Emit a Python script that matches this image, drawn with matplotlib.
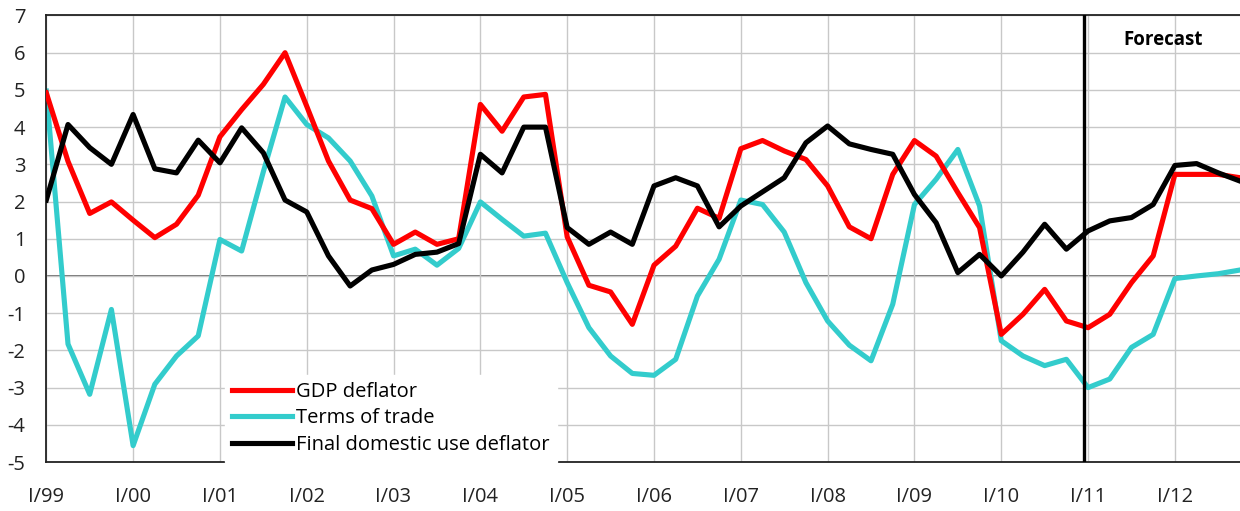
import matplotlib
matplotlib.use("Agg")
import matplotlib.pyplot as plt
import numpy as np

years = ["99", "00", "01", "02", "03", "04", "05", "06", "07", "08", "09", "10", "11", "12"]
tick_labels = ["I/" + y for y in years]

gdp_deflator = [4.92, 3.08, 1.68, 1.99, 1.50, 1.03, 1.39, 2.17, 3.74, 4.47,
                5.15, 6.00, 4.56, 3.09, 2.04, 1.81, 0.85, 1.18, 0.85, 1.00,
                4.61, 3.89, 4.81, 4.88, 1.05, -0.25, -0.43, -1.30, 0.29, 0.80,
                1.82, 1.55, 3.42, 3.64, 3.36, 3.13, 2.42, 1.32, 1.00, 2.73,
                3.64, 3.22, 2.24, 1.30, -1.57, -1.03, -0.36, -1.21, -1.39, -1.03,
                -0.18, 0.54, 2.73, 2.73, 2.73, 2.64]

terms_of_trade = [4.97, -1.83, -3.18, -0.90, -4.56, -2.91, -2.15, -1.61, 0.98, 0.67,
                  2.80, 4.81, 4.07, 3.71, 3.09, 2.15, 0.54, 0.72, 0.29, 0.74,
                  1.99, 1.52, 1.07, 1.15, -0.18, -1.39, -2.15, -2.62, -2.67, -2.24,
                  -0.54, 0.45, 2.04, 1.92, 1.18, -0.18, -1.21, -1.86, -2.28, -0.76,
                  1.92, 2.60, 3.40, 1.88, -1.74, -2.15, -2.41, -2.24, -3.00, -2.77,
                  -1.92, -1.57, -0.07, 0.00, 0.06, 0.16]

final_domestic = [2.04, 4.07, 3.45, 3.00, 4.34, 2.88, 2.77, 3.65, 3.04, 3.98,
                  3.31, 2.04, 1.72, 0.54, -0.27, 0.16, 0.31, 0.58, 0.64, 0.87,
                  3.27, 2.77, 4.00, 4.00, 1.30, 0.85, 1.18, 0.85, 2.42, 2.64,
                  2.42, 1.32, 1.88, 2.26, 2.64, 3.58, 4.03, 3.55, 3.40, 3.27,
                  2.19, 1.43, 0.09, 0.58, 0.00, 0.64, 1.39, 0.72, 1.21, 1.48,
                  1.57, 1.92, 2.97, 3.02, 2.77, 2.55]

forecast_start = 47.8

x = np.arange(len(gdp_deflator))

plt.rcParams['font.family'] = ['Open Sans', 'DejaVu Sans']
plt.rcParams['axes.unicode_minus'] = False

fig = plt.figure(figsize=(12.4, 5.11), dpi=100)
ax = fig.add_axes([46.3 / 1240, 1 - 462 / 511, 1 - 46.3 / 1240, (462 - 15.5) / 511])

ax.set_xlim(0, 55)
ax.set_ylim(-5, 7)
ax.set_yticks(np.arange(-5, 8, 1))
ax.set_xticks(np.arange(0, len(years) * 4, 4))
ax.set_xticklabels(tick_labels)

ax.grid(True, color="#c8c8c8", linewidth=1.0, zorder=0)
ax.axhline(0, color="#555555", linewidth=1.2, zorder=1)

ax.plot(x, gdp_deflator, color="#ff0000", linewidth=3.7, label="GDP deflator", zorder=3, solid_joinstyle="round")
ax.plot(x, terms_of_trade, color="#33cccc", linewidth=3.7, label="Terms of trade", zorder=2, solid_joinstyle="round")
ax.plot(x, final_domestic, color="#000000", linewidth=3.7, label="Final domestic use deflator", zorder=4, solid_joinstyle="round")

ax.axvline(forecast_start, color="black", linewidth=2.4, zorder=5)
ax.text(51.45, 6.33, "Forecast", ha="center", va="center", fontsize=13.5, fontweight="bold", zorder=6)

ax.tick_params(axis="both", length=0, labelsize=14.5, colors="#222222")
ax.tick_params(axis="x", pad=18)
ax.tick_params(axis="y", pad=15)

for side in ["left", "bottom", "top"]:
    ax.spines[side].set_color("#222222")
    ax.spines[side].set_linewidth(1.3)
ax.spines["right"].set_visible(False)

leg = ax.legend(loc="lower left", bbox_to_anchor=((225 - 46.3) / 1193.7, 0.0),
                frameon=True, fontsize=14.5, handlelength=3.0, handletextpad=0.2,
                labelspacing=0.33, borderpad=0.35, borderaxespad=0.0)
leg.get_frame().set_facecolor("white")
leg.get_frame().set_edgecolor("white")
leg.get_frame().set_alpha(1.0)
leg.get_frame().set_boxstyle("square", pad=0)
leg.set_zorder(7)

fig.savefig("out.png", dpi=100)
